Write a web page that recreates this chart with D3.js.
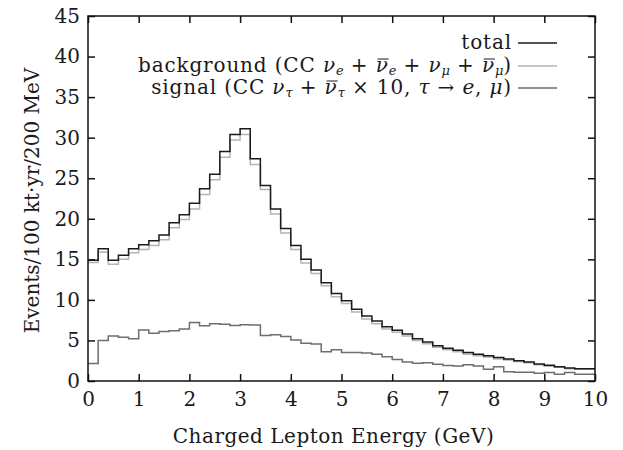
<!DOCTYPE html>
<html lang="en">
<head>
  <meta charset="UTF-8">
  <title>Charged lepton energy</title>
  <style>
    body { margin: 0; background: #fff; }
    svg { display: block; }
    text { font-family: "DejaVu Serif", "Liberation Serif", serif; fill: #1a1a1a; }
    .frame { fill: none; stroke: #111; stroke-width: 1.5; }
  </style>
</head>
<body>
  <svg id="chart" width="623" height="450"></svg>
  <script src="https://cdn.jsdelivr.net/npm/d3@7/dist/d3.min.js"></script>
  <script>
    // bins of 0.2 GeV, 0 -> 10 GeV
    const binWidth = 0.2
    const total = [14.9, 16.3, 14.9, 15.5, 16.3, 16.8, 17.3, 18.0, 19.5, 20.5,
      21.9, 23.7, 25.5, 28.3, 30.4, 31.1, 27.4, 24.1, 21.2, 18.8,
      16.7, 15.0, 13.7, 12.1, 10.8, 9.9, 8.85, 8.0, 7.4, 6.7,
      6.25, 5.8, 5.2, 4.8, 4.35, 4.05, 3.8, 3.5, 3.3, 3.1,
      2.9, 2.7, 2.5, 2.35, 2.1, 1.93, 1.77, 1.6, 1.52, 1.52]
    const background = [14.6, 15.9, 14.4, 15.0, 15.8, 16.2, 16.7, 17.4, 18.9, 19.9,
      21.2, 23.0, 24.8, 27.6, 29.7, 30.4, 26.7, 23.6, 20.6, 18.25,
      16.2, 14.55, 13.25, 11.75, 10.4, 9.55, 8.5, 7.65, 7.05, 6.4,
      6.0, 5.55, 5.0, 4.6, 4.15, 3.85, 3.6, 3.3, 3.1, 2.95,
      2.7, 2.6, 2.4, 2.25, 2.0, 1.82, 1.7, 1.5, 1.45, 1.45]
    const signal = [2.17, 4.98, 5.55, 5.4, 5.2, 6.3, 5.9, 6.1, 6.2, 6.4,
      7.2, 6.8, 7.05, 7.0, 6.85, 6.95, 6.9, 5.6, 5.7, 5.5,
      5.05, 4.65, 4.55, 3.6, 3.85, 3.5, 3.5, 3.45, 3.3, 3.0,
      2.65, 2.35, 2.2, 2.25, 2.05, 1.9, 1.85, 2.0, 1.85, 1.45,
      1.75, 1.15, 1.07, 1.07, 0.95, 1.05, 0.83, 1.05, 0.83, 0.83]
    const xTicks = [0, 1, 2, 3, 4, 5, 6, 7, 8, 9, 10]
    const yTicks = [0, 5, 10, 15, 20, 25, 30, 35, 40, 45]

    const svg = d3.select('#chart')
    const mLeft = 88, mRight = 595, mTop = 16, mBottom = 381
    const fs = 20

    const x = d3.scaleLinear().domain([0, 10]).range([mLeft, mRight])
    const y = d3.scaleLinear().domain([0, 45]).range([mBottom, mTop])

    // ticks, mirrored on all four sides, pointing inward
    const tl = 7
    svg.append('g').attr('transform', `translate(0,${mBottom})`)
      .call(d3.axisBottom(x).tickValues(xTicks).tickSizeInner(-tl).tickSizeOuter(0).tickPadding(11).tickFormat(d3.format('d')))
    svg.append('g').attr('transform', `translate(0,${mTop})`)
      .call(d3.axisTop(x).tickValues(xTicks).tickSizeInner(-tl).tickSizeOuter(0).tickFormat(''))
    svg.append('g').attr('transform', `translate(${mLeft},0)`)
      .call(d3.axisLeft(y).tickValues(yTicks).tickSizeInner(-tl).tickSizeOuter(0).tickPadding(8).tickFormat(d3.format('d')))
    svg.append('g').attr('transform', `translate(${mRight},0)`)
      .call(d3.axisRight(y).tickValues(yTicks).tickSizeInner(-tl).tickSizeOuter(0).tickFormat(''))
    svg.selectAll('.domain').remove()
    svg.selectAll('.tick line').attr('stroke', '#111').attr('stroke-width', 1.5)
    svg.selectAll('.tick text').attr('fill', '#1a1a1a')
      .style('font-family', '"DejaVu Serif", serif').style('font-size', fs + 'px')

    function steps(vals) {
      const pts = vals.map((v, i) => [i * binWidth, v])
      pts.push([vals.length * binWidth, vals[vals.length - 1]])
      return pts
    }
    const line = d3.line().x(d => x(d[0])).y(d => y(d[1])).curve(d3.curveStepAfter)

    const series = [
      { vals: background, color: '#b4b4b4' },
      { vals: signal, color: '#6e6e6e' },
      { vals: total, color: '#1a1a1a' }
    ]
    series.forEach(s => {
      svg.append('path').attr('d', line(steps(s.vals)))
        .attr('fill', 'none').attr('stroke', s.color).attr('stroke-width', 1.5)
    })

    svg.append('rect').attr('class', 'frame')
      .attr('x', mLeft).attr('y', mTop).attr('width', mRight - mLeft).attr('height', mBottom - mTop)

    // legend; 'b' = italic with a bar drawn over it afterwards
    const legend = [
      { y: 43, color: '#1a1a1a', parts: [['total']] },
      { y: 66, color: '#b4b4b4', parts: [['background (CC '], ['ν', 'i'], ['e', 'sub'], [' + '], ['ν', 'b'], ['e', 'sub'], [' + '], ['ν', 'i'], ['μ', 'sub'], [' + '], ['ν', 'b'], ['μ', 'sub'], [')']] },
      { y: 88, color: '#6e6e6e', parts: [['signal (CC '], ['ν', 'i'], ['τ', 'sub'], [' + '], ['ν', 'b'], ['τ', 'sub'], [' × 10, '], ['τ', 'i'], [' → '], ['e', 'i'], [', '], ['μ', 'i'], [')']] }
    ]
    legend.forEach(l => {
      const base = l.y + 6
      const t = svg.append('text').attr('x', 512).attr('y', base)
        .attr('text-anchor', 'end').style('font-size', fs + 'px').style('letter-spacing', '0.85px')
      let low = false
      const bars = []
      l.parts.forEach(p => {
        const ts = t.append('tspan').text(p[0])
        if (p[1] === 'i' || p[1] === 'b') ts.style('font-style', 'italic')
        if (p[1] === 'b') bars.push(ts)
        if (p[1] === 'sub') {
          ts.style('font-style', 'italic').style('font-size', '13px').style('letter-spacing', '0px')
          if (!low) ts.attr('dy', 3)
          low = true
        } else if (low) {
          ts.attr('dy', -3)
          low = false
        }
      })
      bars.forEach(ts => {
        const bb = ts.node().getBBox()
        svg.append('line').attr('x1', bb.x + 2).attr('x2', bb.x + bb.width)
          .attr('y1', base - 13).attr('y2', base - 13)
          .attr('stroke', '#1a1a1a').attr('stroke-width', 1)
      })
      svg.append('line').attr('x1', 518).attr('x2', 557).attr('y1', l.y).attr('y2', l.y)
        .attr('stroke', l.color).attr('stroke-width', 1.5)
    })

    // axis titles
    svg.append('text').attr('x', (mLeft + mRight) / 2 - 8).attr('y', 443)
      .attr('text-anchor', 'middle').style('font-size', fs + 'px').style('letter-spacing', '0.5px')
      .text('Charged Lepton Energy (GeV)')
    svg.append('text').attr('transform', `translate(39,${(mTop + mBottom) / 2 + 2}) rotate(-90)`)
      .attr('text-anchor', 'middle').style('font-size', fs + 'px')
      .text('Events/100 kt·yr/200 MeV')
  </script>
</body>
</html>
